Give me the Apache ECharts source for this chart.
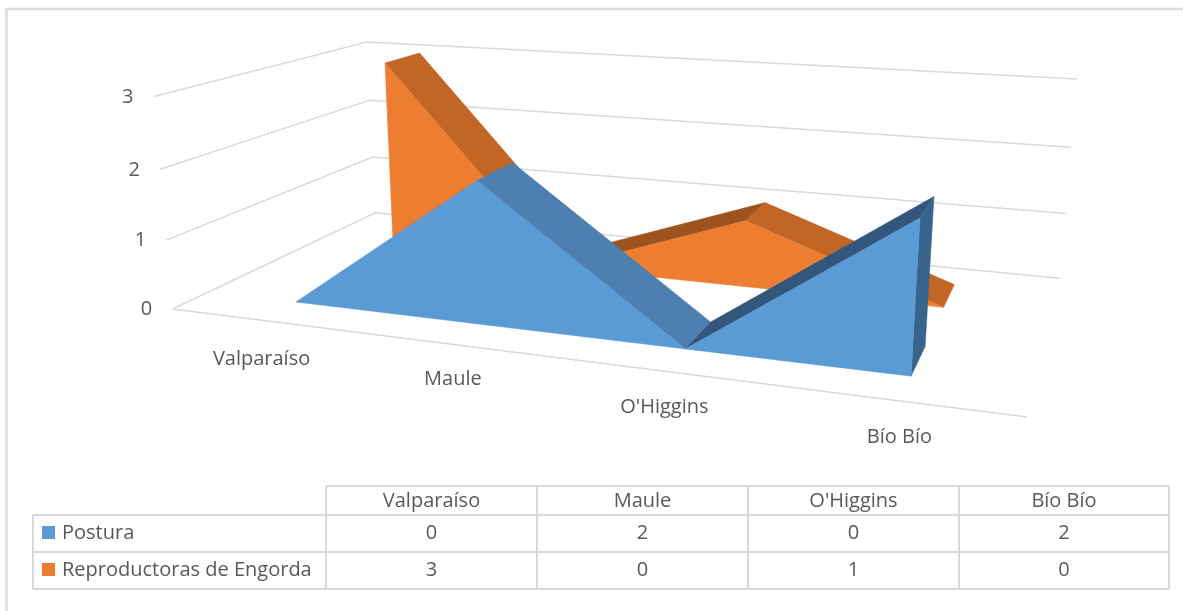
<!DOCTYPE html>
<html><head><meta charset="utf-8"><style>html,body{margin:0;background:#fff}#c{width:1183px;height:611px}</style>
<script src="https://cdn.jsdelivr.net/npm/echarts@6/dist/echarts.min.js"></script></head>
<body><div id="c"></div><script>
var categories = ['Valparaíso', 'Maule', "O'Higgins", 'Bío Bío'];
var postura = [0, 2, 0, 2];
var reproductoras = [3, 0, 1, 0];
var seriesNames = ['Postura', 'Reproductoras de Engorda'];
var valueTicks = [0, 1, 2, 3];

// Perspective camera for the 3D box: (x 0..1, value 0..3, depth 0..1) -> screen
var CAM = [663.169988,-8.309691,298.995597,172.580934, 30.405118,-72.092577,-41.620393,308.995956, -0.186171,-0.013277,0.256495];
function project(x, y, z) {
  var w = CAM[8]*x + CAM[9]*y + CAM[10]*z + 1;
  return [(CAM[0]*x + CAM[1]*y + CAM[2]*z + CAM[3]) / w, (CAM[4]*x + CAM[5]*y + CAM[6]*z + CAM[7]) / w];
}
var FONT = '20px "Open Sans", sans-serif';
var INK = '#595959', LINE = '#d9d9d9';

// read the flat cartesian position the axes give and lift it into the box
function lift(params, api, i, v) {
  var cs = params.coordSys, p = api.coord([i, v]);
  return { x: (p[0] - cs.x) / cs.width, y: 3 * (cs.y + cs.height - p[1]) / cs.height };
}
function poly(points, fill) {
  return { type: 'polygon', shape: { points: points }, style: { fill: fill, stroke: fill, lineWidth: 0.5, lineJoin: 'round' } };
}
function areaSeries(name, values, z0, z1, face, fall, rise, cap, order) {
  return {
    name: name, type: 'custom', coordinateSystem: 'cartesian2d', z: order, silent: true,
    encode: { x: 0, y: 1 },
    data: values.map(function (v, i) { return [i, v]; }),
    renderItem: function (params, api) {
      var i = api.value(0), v = api.value(1), next = values[i + 1], kids = [];
      var a = lift(params, api, i, v);
      if (next !== undefined) {
        var b = lift(params, api, i + 1, next);
        var p0 = project(a.x,a.y,z0), p1 = project(b.x,b.y,z0), p2 = project(b.x,b.y,z1), p3 = project(a.x,a.y,z1);
        // a strip is seen only when its far edge lies above the near edge on screen
        var facing = (p1[0]-p0[0])*(p3[1]-p0[1]) - (p1[1]-p0[1])*(p3[0]-p0[0]) < 0;
        if (facing) kids.push(poly([p0, p1, p2, p3], next > v ? rise : fall));
      } else {
        if (v > 0) kids.push(poly([project(a.x,0,z0), project(a.x,a.y,z0), project(a.x,a.y,z1), project(a.x,0,z1)], cap));
        // whole front face, drawn once over its strips
        var top = values.map(function (val, k) { var q = lift(params, api, k, val); return project(q.x, q.y, z0); });
        var first = lift(params, api, 0, 0), last = lift(params, api, values.length - 1, 0);
        kids.push(poly([project(first.x,0,z0)].concat(top, [project(last.x,0,z0)]), face));
      }
      return { type: 'group', children: kids };
    }
  };
}
var gridSeries = {
  name: 'grid', type: 'custom', coordinateSystem: 'cartesian2d', z: 1, silent: true, encode: { x: 0, y: 1 },
  data: valueTicks.map(function (t) { return [0, t]; }),
  renderItem: function (params, api) {
    var t = api.value(1), y = lift(params, api, 0, t).y;
    var kids = [{ type: 'polyline', shape: { points: [project(0,y,0), project(0,y,1), project(1,y,1)] }, style: { fill: null, stroke: LINE, lineWidth: 1.5 } }];
    if (t === 0) kids.push({ type: 'line', shape: { x1: project(0,0,0)[0], y1: project(0,0,0)[1], x2: project(1,0,0)[0], y2: project(1,0,0)[1] }, style: { stroke: LINE, lineWidth: 1.5 } });
    var q = project(0, y, 0);
    kids.push({ type: 'text', style: { text: String(t), x: q[0] - 26, y: q[1] + 0.5, fill: INK, font: FONT, align: 'center', verticalAlign: 'middle' } });
    return { type: 'group', children: kids };
  }
};
var labelDrop = [39, 35, 36.5, 36];
var catLabels = {
  name: 'labels', type: 'custom', coordinateSystem: 'cartesian2d', z: 1, silent: true, encode: { x: 0, y: 1 },
  data: categories.map(function (c, i) { return [i, 0]; }),
  renderItem: function (params, api) {
    var i = api.value(0), a = lift(params, api, i, 0), q = project(a.x, 0, 0);
    return { type: 'text', style: { text: categories[i], x: q[0], y: q[1] + labelDrop[i], fill: INK, font: FONT, align: 'center', verticalAlign: 'middle' } };
  }
};

// data table
var colX = [326, 537, 748, 959, 1169], rowY = [486, 515, 552, 589], tableLeft = 33;
var keyColors = ['#5b9bd5', '#ed7d31'];
var gfx = [];
function seg(x1, y1, x2, y2, c, w) { gfx.push({ type: 'line', shape: { x1: x1, y1: y1, x2: x2, y2: y2 }, style: { stroke: c || LINE, lineWidth: w || 2 } }); }
function txt(s, x, y, align) { gfx.push({ type: 'text', style: { text: s, x: x, y: y, fill: INK, font: FONT, align: align || 'center', verticalAlign: 'middle' } }); }
seg(5, 9, 1183, 9, '#dddddd', 2.5); seg(6.5, 8, 6.5, 611, '#dddddd', 2.5);
seg(colX[0], rowY[0], colX[4], rowY[0]);
seg(tableLeft, rowY[1], colX[4], rowY[1]); seg(tableLeft, rowY[2], colX[4], rowY[2]); seg(tableLeft, rowY[3], colX[4], rowY[3]);
seg(tableLeft, rowY[1], tableLeft, rowY[3]);
colX.forEach(function (x) { seg(x, rowY[0], x, rowY[3]); });
categories.forEach(function (c, i) { txt(c, (colX[i] + colX[i + 1]) / 2, (rowY[0] + rowY[1]) / 2 + 0.5); });
[postura, reproductoras].forEach(function (vals, r) {
  var cy = (rowY[r + 1] + rowY[r + 2]) / 2;
  gfx.push({ type: 'rect', shape: { x: 42, y: cy - 7.5, width: 13, height: 13 }, style: { fill: keyColors[r] } });
  txt(seriesNames[r], 62, cy - 0.5, 'left');
  vals.forEach(function (v, i) { txt(String(v), (colX[i] + colX[i + 1]) / 2, cy - 0.5); });
});

var chart = echarts.init(document.getElementById('c'), null, { renderer: 'canvas', width: 1183, height: 611 });
chart.setOption({
  animation: false, backgroundColor: '#fff',
  grid: { left: 100, right: 100, top: 60, bottom: 200 },
  xAxis: { type: 'category', data: categories, show: false },
  yAxis: { type: 'value', min: 0, max: 3, interval: 1, show: false },
  series: [
    areaSeries(seriesNames[0], postura, 0.15, 0.35, '#5b9bd5', '#4d80b0', '#33577c', '#37648c', 4),
    areaSeries(seriesNames[1], reproductoras, 0.65, 0.85, '#ed7d31', '#c26626', '#9d531d', '#c26626', 3),
    gridSeries, catLabels
  ],
  graphic: { elements: gfx }
});
</script></body></html>
